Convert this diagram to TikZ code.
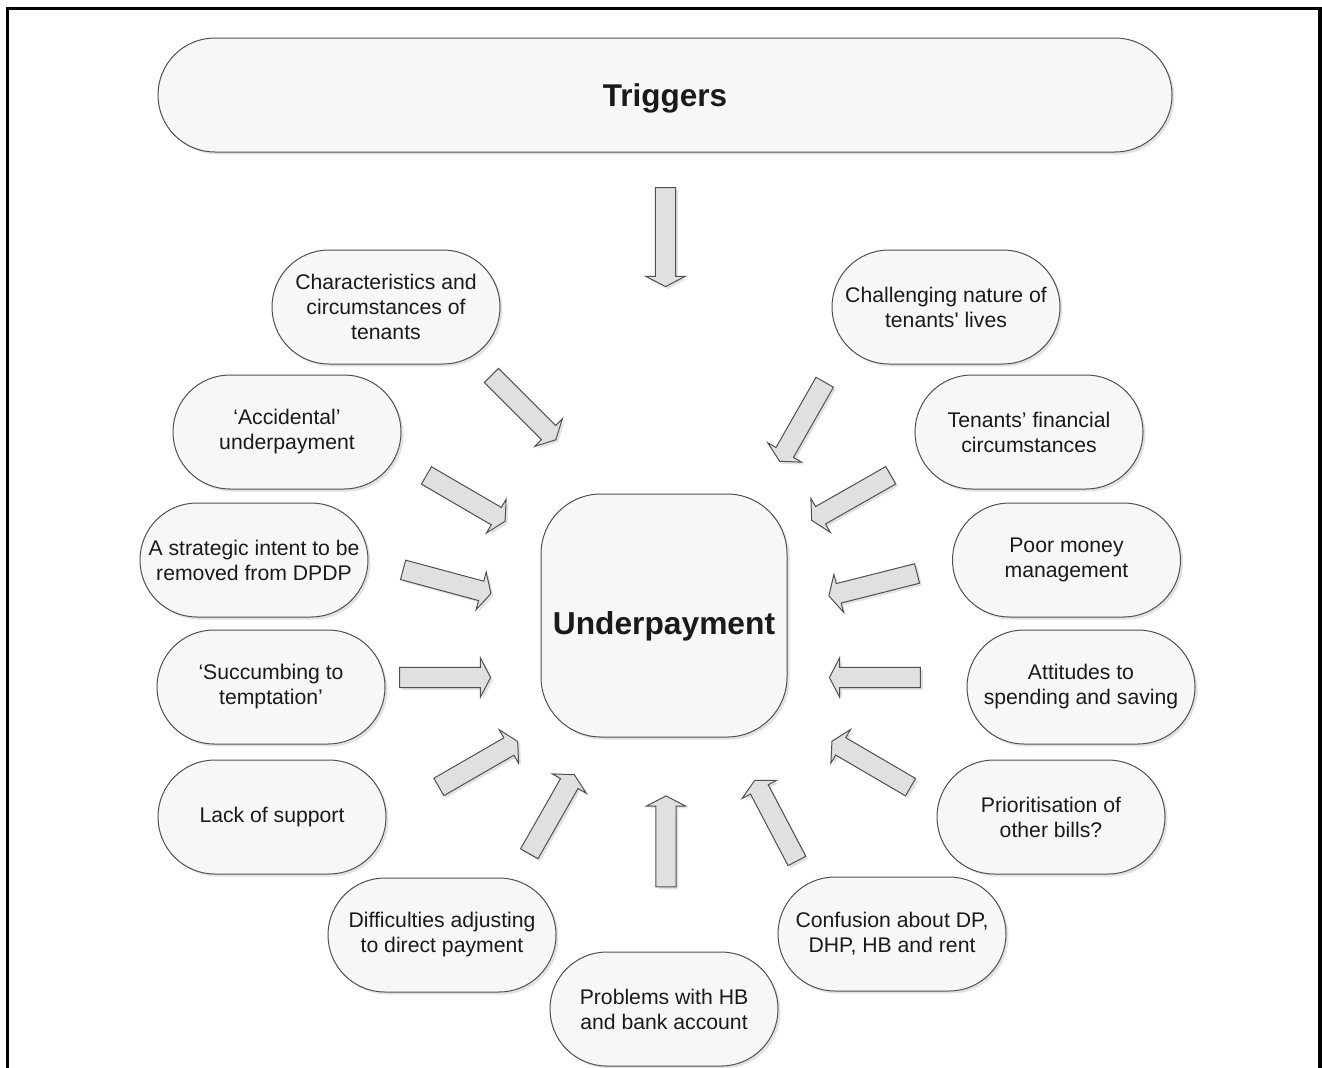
\documentclass[tikz,border=0pt]{standalone}
\usepackage{fontspec}
\setmainfont{Liberation Sans}
\usetikzlibrary{shapes.arrows,shadows}
\definecolor{nodefill}{HTML}{F7F7F7}
\definecolor{nodeline}{HTML}{505050}
\definecolor{arrowfill}{HTML}{E0E0E0}
\definecolor{shadowc}{HTML}{E2E2E2}
\definecolor{textc}{HTML}{1A1A1A}
\newcommand\DrawBlockArrow[3][68.25pt]{%
  \path ([shift={(2.5,2.5)}]#2) -- node[arrowshadow, minimum height=#1]{} ([shift={(2.5,2.5)}]#3);
  \path (#2) -- node[arrowbody, minimum height=#1]{} (#3);
}
\begin{document}
\begin{tikzpicture}[x=0.75pt,y=-0.75pt,
  shade/.style={drop shadow={shadow xshift=1.9pt,shadow yshift=-1.9pt,fill=shadowc,opacity=1}},
  sat/.style={draw=nodeline, line width=0.75pt, fill=nodefill, rectangle,
    rounded corners=42.7pt, minimum width=171pt, minimum height=85.5pt,
    inner sep=0pt, align=center, text=textc,
    font=\fontsize{15.9}{18.75}\selectfont, shade},
  bigbox/.style={draw=nodeline, line width=0.75pt, fill=nodefill, rectangle, inner sep=0pt, shade},
  arrowbase/.style={single arrow, sloped, allow upside down, midway,
    inner xsep=0pt, inner ysep=7.15pt,
    single arrow head extend=7.1pt, single arrow tip angle=125},
  arrowbody/.style={arrowbase, draw=nodeline, line width=0.75pt, fill=arrowfill},
  arrowshadow/.style={arrowbase, fill=shadowc},
]
\useasboundingbox (0,0) rectangle (1322,1068);
% frame
\draw[line width=2.4pt, line join=miter] (7.5,1072) -- (7.5,8.5) -- (1320,8.5) -- (1320,1072);

% main boxes
\node[bigbox, minimum width=760.5pt, minimum height=85.5pt, rounded corners=42.7pt] (trig) at (665,95) {};
\node[text=textc, font=\fontsize{23.6}{28}\selectfont\bfseries, text depth=0pt] (triglabel) at (665,95.5) {Triggers};
\node[bigbox, minimum width=184.5pt, minimum height=182.25pt, rounded corners=45pt] (under) at (664,615.5) {};
\node[text=textc, font=\fontsize{23.8}{28}\selectfont\bfseries, text depth=0pt] (underlabel) at (664,622.5) {Underpayment};

% satellites
\node[sat] (n1) at (386,307) {Characteristics and\\circumstances of\\tenants};
\node[sat] (n2) at (946,307) {Challenging nature of\\tenants\textquotesingle\ lives};
\node[sat] (n3) at (287,432) {‘Accidental’\\underpayment};
\node[sat] (n4) at (1029,432) {Tenants’ financial\\circumstances};
\node[sat] (n5) at (254,560) {A strategic intent to be\\removed from DPDP};
\node[sat] (n6) at (1066.5,560) {Poor money\\management};
\node[sat] (n7) at (271,687) {‘Succumbing to\\temptation’};
\node[sat] (n8) at (1081,687) {Attitudes to\\spending and saving};
\node[sat] (n9) at (272,817) {Lack of support};
\node[sat] (n10) at (1051,817) {Prioritisation of\\other bills?};
\node[sat] (n11) at (442,935) {Difficulties adjusting\\to direct payment};
\node[sat] (n12) at (892,934) {Confusion about DP,\\DHP, HB and rent};
\node[sat] (n13) at (664,1009) {Problems with HB\\and bank account};

% arrow end points
\coordinate (t0) at (665.5,185);  \coordinate (h0) at (665.5,284);
\coordinate (t1) at (489.5,373.5); \coordinate (h1) at (554,438);
\coordinate (t2) at (826,380);    \coordinate (h2) at (781,459);
\coordinate (t3) at (424,474);    \coordinate (h3) at (503,520);
\coordinate (t4) at (893,474);    \coordinate (h4) at (814,519);
\coordinate (t5) at (400,569);    \coordinate (h5) at (489,593);
\coordinate (t6) at (919,573);    \coordinate (h6) at (832,595);
\coordinate (t7) at (397,677.5);  \coordinate (h7) at (488,677.5);
\coordinate (t8) at (923,677.5);  \coordinate (h8) at (832,677.5);
\coordinate (t9) at (437,788);    \coordinate (h9) at (515,743);
\coordinate (t10) at (912,788);   \coordinate (h10) at (835,743);
\coordinate (t11) at (528,856);   \coordinate (h11) at (573,777);
\coordinate (t12) at (798,863);   \coordinate (h12) at (756,783);
\coordinate (t13) at (666,889);   \coordinate (h13) at (666,799);

\DrawBlockArrow[74.25pt]{t0}{h0}
\DrawBlockArrow{t1}{h1}
\DrawBlockArrow{t2}{h2}
\DrawBlockArrow{t3}{h3}
\DrawBlockArrow{t4}{h4}
\DrawBlockArrow{t5}{h5}
\DrawBlockArrow{t6}{h6}
\DrawBlockArrow{t7}{h7}
\DrawBlockArrow{t8}{h8}
\DrawBlockArrow{t9}{h9}
\DrawBlockArrow{t10}{h10}
\DrawBlockArrow{t11}{h11}
\DrawBlockArrow{t12}{h12}
\DrawBlockArrow{t13}{h13}
\end{tikzpicture}
\end{document}
